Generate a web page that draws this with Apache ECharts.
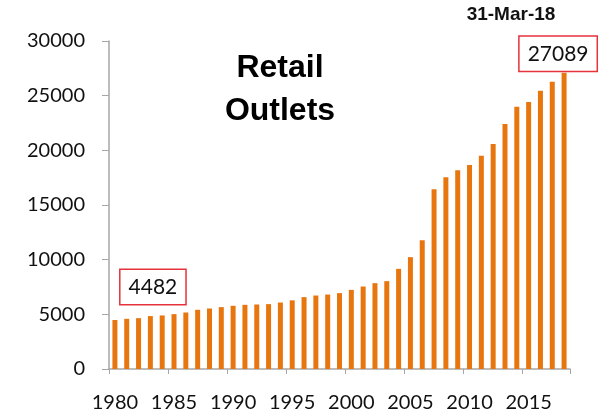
<!DOCTYPE html>
<html>
<head>
<meta charset="utf-8">
<script src="https://cdn.jsdelivr.net/npm/echarts@6/dist/echarts.min.js"></script>
<style>
html, body { margin: 0; padding: 0; background: #fff; }
#divChart { width: 599px; height: 416px; }
</style>
</head>
<body>
<div id="divChart"></div>
<script>
// retail outlets by year (as of 31-Mar)
var years = [];
for (var y = 1980; y <= 2018; y++) years.push(String(y));
var outlets = [4482, 4590, 4650, 4840, 4900, 5020, 5170, 5415, 5535, 5660,
    5780, 5870, 5900, 5935, 6080, 6280, 6575, 6720, 6810, 6940,
    7240, 7545, 7850, 8035, 9160, 10230, 11780, 16440, 17530, 18170,
    18660, 19510, 20575, 22400, 23980, 24410, 25450, 26265, 27089];
var yTicks = { min: 0, max: 30000, interval: 5000 };
var titleText = 'Retail\nOutlets';
var dateText = '31-Mar-18';

var myChart = echarts.init(document.getElementById('divChart'));

function boxLabel(offset) {
    return {
        show: true,
        position: 'top',
        distance: 2,
        offset: offset,
        formatter: '{c}',
        color: '#111',
        fontFamily: 'Lato',
        fontSize: 21,
        backgroundColor: '#fff',
        borderColor: '#E5323B',
        borderWidth: 1.5,
        padding: [7, 8, 6, 8]
    };
}

function buildData() {
    var result = [];
    for (var i = 0; i < outlets.length; i++) {
        var d = { value: outlets[i] };
        if (i == 0) d.label = boxLabel([38, -14]);
        if (i == outlets.length - 1) d.label = boxLabel([-6, 0]);
        result.push(d);
    }
    return result;
}

var option = {
    animation: false,
    grid: { left: 109, right: 29, top: 41, bottom: 47 },
    graphic: [
        {
            type: 'text',
            style: {
                text: titleText, x: 280, y: 47, textAlign: 'center',
                font: 'bold 32px "Liberation Sans"', lineHeight: 43, fill: '#000'
            }
        },
        {
            type: 'text',
            style: {
                text: dateText, x: 511, y: 5, textAlign: 'center',
                font: 'bold 19px "Liberation Sans"', fill: '#111'
            }
        }
    ],
    xAxis: {
        type: 'category',
        data: years,
        boundaryGap: true,
        axisLine: { lineStyle: { color: '#A6A6A6', width: 1.5 } },
        axisTick: { show: true, interval: 4, length: 5, lineStyle: { color: '#A6A6A6' } },
        axisLabel: { interval: 4, margin: 24, color: '#111', fontFamily: 'Lato', fontSize: 20 }
    },
    yAxis: {
        type: 'value',
        min: yTicks.min,
        max: yTicks.max,
        interval: yTicks.interval,
        splitLine: { show: false },
        axisLine: { show: true, lineStyle: { color: '#A6A6A6', width: 1.5 } },
        axisTick: { show: true, length: 7, lineStyle: { color: '#A6A6A6' } },
        axisLabel: {
            margin: 24, color: '#111', fontFamily: 'Lato', fontSize: 20,
            formatter: function (v) { return String(v); }
        }
    },
    series: [{
        type: 'bar',
        data: buildData(),
        barWidth: 5,
        itemStyle: { color: '#E8760F' }
    }]
};
myChart.setOption(option);
</script>
</body>
</html>
